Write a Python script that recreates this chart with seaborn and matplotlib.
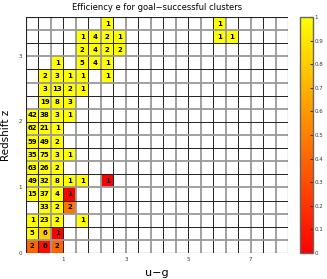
import numpy as np
import pandas as pd
import matplotlib
matplotlib.use('Agg')
import matplotlib.pyplot as plt
import seaborn as sns

# bins: u-g columns of width 0.4 starting at -0.2, z rows of width 0.2 starting at 0
n_ug_bins = 21
n_z_bins = 18

# occupied cells: z row index, u-g column index, number of clusters, efficiency
cell_row = [0, 0, 0,
            1, 1, 1,
            2, 2, 2, 2,
            3, 3, 3,
            4, 4, 4, 4,
            5, 5, 5, 5, 5, 5,
            6, 6, 6,
            7, 7, 7, 7,
            8, 8, 8,
            9, 9, 9,
            10, 10, 10, 10,
            11, 11, 11,
            12, 12, 12, 12,
            13, 13, 13, 13, 13,
            14, 14, 14, 14,
            15, 15, 15, 15,
            16, 16, 16, 16, 16, 16,
            17, 17]
cell_col = [0, 1, 2,
            0, 1, 2,
            0, 1, 2, 4,
            1, 2, 3,
            0, 1, 2, 3,
            0, 1, 2, 3, 4, 6,
            0, 1, 2,
            0, 1, 2, 3,
            0, 1, 2,
            0, 1, 2,
            0, 1, 2, 3,
            1, 2, 3,
            1, 2, 3, 4,
            1, 2, 3, 4, 6,
            2, 4, 5, 6,
            4, 5, 6, 7,
            4, 5, 6, 7, 15, 16,
            6, 15]
cell_n = [2, 6, 2,
          5, 6, 1,
          1, 23, 2, 1,
          33, 2, 2,
          15, 37, 4, 1,
          49, 32, 8, 1, 1, 1,
          63, 26, 2,
          35, 75, 3, 1,
          59, 49, 2,
          62, 21, 1,
          42, 38, 3, 1,
          19, 8, 3,
          3, 13, 2, 1,
          2, 3, 1, 1, 1,
          1, 5, 4, 1,
          2, 4, 2, 2,
          1, 4, 2, 1, 1, 1,
          1, 1]
cell_eff = [0.4, 0.05, 0.4,
            1, 0.8, 0.0,
            1, 1, 1, 1,
            1, 1, 0.45,
            1, 1, 1, 0.0,
            1, 1, 1, 1, 1, 0.0,
            1, 1, 1,
            1, 1, 1, 1,
            1, 1, 1,
            1, 1, 1,
            1, 1, 1, 1,
            1, 1, 1,
            1, 1, 1, 1,
            1, 1, 1, 1, 1,
            1, 1, 1, 1,
            1, 1, 1, 1,
            1, 1, 1, 1, 1, 1,
            1, 1]

x_tick_labels = ['1', '3', '5', '7']
y_tick_labels = ['0', '1', '2', '3']
cbar_ticks = [0, 0.1, 0.2, 0.3, 0.4, 0.5, 0.6, 0.7, 0.8, 0.9, 1]

cells = pd.DataFrame({'row': cell_row, 'col': cell_col, 'n': cell_n, 'eff': cell_eff})
eff = cells.pivot(index='row', columns='col', values='eff')
eff = eff.reindex(index=range(n_z_bins), columns=range(n_ug_bins))
counts = cells.pivot(index='row', columns='col', values='n')
counts = counts.reindex(index=range(n_z_bins), columns=range(n_ug_bins))
labels = counts.map(lambda v: '' if pd.isna(v) else str(int(v))).values

fig = plt.figure(figsize=(3.27, 2.79), dpi=100)
ax = fig.add_axes([0.0795, 0.093, 0.802, 0.846])
cax = fig.add_axes([0.918, 0.093, 0.04, 0.846])

sns.heatmap(eff, mask=eff.isna(), annot=labels, fmt='', cmap='autumn', vmin=0, vmax=1,
            linewidths=0, cbar_ax=cax, ax=ax,
            annot_kws=dict(fontsize=5, fontweight='bold', color='black'))
ax.invert_yaxis()

# grid: alternating grey and black edges
for k in range(n_ug_bins + 1):
    if k % 2 == 0:
        ax.axvline(k, color='#999999', lw=1.3, zorder=2)
    else:
        ax.axvline(k, color='#222222', lw=0.7, zorder=2)
for k in range(n_z_bins + 1):
    if k % 2 == 0:
        ax.axhline(k, color='#222222', lw=0.7, zorder=2)
    else:
        ax.axhline(k, color='#999999', lw=1.3, zorder=2)
ax.axvline(0, color='#222222', lw=0.8)
ax.axvline(n_ug_bins, color='#222222', lw=0.8)
ax.axhline(0, color='#222222', lw=0.8)
ax.axhline(n_z_bins, color='#222222', lw=0.8)

ax.set_xticks([3, 8, 13, 18])
ax.set_xticklabels(x_tick_labels, rotation=0)
ax.set_yticks([0, 5, 10, 15])
ax.set_yticklabels(y_tick_labels, rotation=0)
ax.tick_params(length=0, labelsize=4, colors='#333333', pad=3)

ax.set_title('Efficiency e for goal\u2212successful clusters', fontsize=6, pad=5)
ax.set_xlabel('u\u2212g', fontsize=8, labelpad=4)
ax.set_ylabel('Redshift z', fontsize=7.5, labelpad=5)

cbar = ax.collections[0].colorbar
cbar.set_ticks(cbar_ticks)
cbar.set_ticklabels([f'{t:g}' for t in cbar_ticks])
cbar.outline.set_visible(True)
cbar.outline.set_edgecolor('#666666')
cbar.outline.set_linewidth(1.0)
cax.tick_params(labelsize=4, length=2, direction='in', colors='#333333', pad=1)

fig.savefig('out.png', dpi=100)
